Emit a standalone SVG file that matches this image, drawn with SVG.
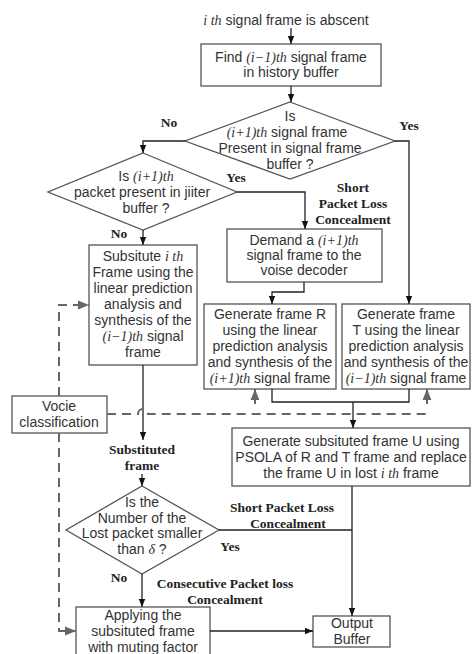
<svg xmlns="http://www.w3.org/2000/svg" width="472" height="654" viewBox="0 0 472 654">
<defs>
<style>
.box{fill:#fff;stroke:#555;stroke-width:1.3}
.t{font-family:"Liberation Sans",Arial,sans-serif;font-size:14px;fill:#333;text-anchor:middle}
.m{font-family:"Liberation Serif","Times New Roman",serif;font-style:italic}
.b{font-family:"Liberation Serif","Times New Roman",serif;font-weight:bold;font-size:13.5px;fill:#222;text-anchor:middle}
.c{fill:none;stroke:#222;stroke-width:1.3}
.d{fill:none;stroke:#666;stroke-width:2;stroke-dasharray:9 6}
.dg{fill:none;stroke:#666;stroke-width:2}
</style>
<marker id="a" viewBox="0 0 10 10" refX="10" refY="5" markerWidth="8" markerHeight="8" markerUnits="userSpaceOnUse" orient="auto"><path d="M0,1 L10,5 L0,9 z" fill="#111"/></marker>
<marker id="g" viewBox="0 0 10 10" refX="10" refY="5" markerWidth="11" markerHeight="11" markerUnits="userSpaceOnUse" orient="auto"><path d="M0,1 L10,5 L0,9 z" fill="#666"/></marker>
</defs>
<rect width="472" height="654" fill="#fff"/>

<g id="start"><text class="t" x="286" y="25"><tspan class="m">i th</tspan>  signal frame is abscent</text></g>

<g id="find"><rect class="box" x="201" y="44" width="180" height="42"/>
<text class="t" x="291" y="62">Find  <tspan class="m">(i</tspan><tspan class="m" font-style="normal">−1)</tspan><tspan class="m">th</tspan> signal frame</text>
<text class="t" x="291" y="77">in history buffer</text></g>

<g id="dec1"><polygon class="box" points="290,102 395,141 290,179 185,141"/>
<text class="t" x="290" y="121">Is</text>
<text class="t" x="287" y="137"><tspan class="m">(i</tspan><tspan class="m" font-style="normal">+1)</tspan><tspan class="m">th</tspan>  signal frame</text>
<text class="t" x="290" y="153">Present in signal frame</text>
<text class="t" x="290" y="169">buffer ?</text></g>

<g id="dec2"><polygon class="box" points="143,153 237,192 143,230 48,192"/>
<text class="t" x="146" y="181">Is  <tspan class="m">(i</tspan><tspan class="m" font-style="normal">+1)</tspan><tspan class="m">th</tspan></text>
<text class="t" x="142" y="197">packet present in jiiter</text>
<text class="t" x="146" y="213">buffer ?</text></g>

<g id="demand"><rect class="box" x="227" y="229" width="155" height="53"/>
<text class="t" x="304" y="245">Demand a  <tspan class="m">(i</tspan><tspan class="m" font-style="normal">+1)</tspan><tspan class="m">th</tspan></text>
<text class="t" x="304" y="260">signal frame to the</text>
<text class="t" x="304" y="275">voise decoder</text></g>

<g id="subst"><rect class="box" x="89" y="245" width="108" height="120"/>
<text class="t" x="143" y="261">Subsitute  <tspan class="m">i th</tspan></text>
<text class="t" x="143" y="277">Frame using the</text>
<text class="t" x="143" y="293">linear prediction</text>
<text class="t" x="143" y="309">analysis and</text>
<text class="t" x="143" y="325">synthesis of the</text>
<text class="t" x="143" y="341"><tspan class="m">(i</tspan><tspan class="m" font-style="normal">−1)</tspan><tspan class="m">th</tspan> signal</text>
<text class="t" x="143" y="357">frame</text></g>

<g id="frameR"><rect class="box" x="204" y="304" width="132" height="85"/>
<text class="t" x="270" y="319">Generate frame R</text>
<text class="t" x="270" y="335">using the linear</text>
<text class="t" x="270" y="351">prediction analysis</text>
<text class="t" x="270" y="367">and synthesis of the</text>
<text class="t" x="270" y="383"><tspan class="m">(i</tspan><tspan class="m" font-style="normal">+1)</tspan><tspan class="m">th</tspan> signal frame</text></g>

<g id="frameT"><rect class="box" x="342" y="304" width="128" height="85"/>
<text class="t" x="406" y="319">Generate frame</text>
<text class="t" x="406" y="335">T using the linear</text>
<text class="t" x="406" y="351">prediction analysis</text>
<text class="t" x="406" y="367">and synthesis of the</text>
<text class="t" x="406" y="383"><tspan class="m">(i</tspan><tspan class="m" font-style="normal">−1)</tspan><tspan class="m">th</tspan> signal frame</text></g>

<g id="vocie"><rect class="box" x="12" y="396" width="95" height="37"/>
<text class="t" x="59" y="411">Vocie</text>
<text class="t" x="59" y="427">classification</text></g>

<g id="frameU"><rect class="box" x="232" y="428" width="238" height="58"/>
<text class="t" x="351" y="446">Generate subsituted frame U using</text>
<text class="t" x="351" y="462">PSOLA of R and T frame and replace</text>
<text class="t" x="351" y="478">the frame U in lost  <tspan class="m">i th</tspan> frame</text></g>

<g id="dec3"><polygon class="box" points="142,486 219,530 142,574 66,530"/>
<text class="t" x="142" y="507">Is the</text>
<text class="t" x="142" y="523">Number of the</text>
<text class="t" x="142" y="538">Lost packet smaller</text>
<text class="t" x="142" y="554">than  <tspan class="m">δ</tspan> ?</text></g>

<g id="apply"><rect class="box" x="76" y="607" width="134" height="60"/>
<text class="t" x="143" y="620">Applying the</text>
<text class="t" x="143" y="636">subsituted frame</text>
<text class="t" x="143" y="652">with muting factor</text></g>

<g id="output"><rect class="box" x="313" y="616" width="77" height="31"/>
<text class="t" x="352" y="628">Output</text>
<text class="t" x="352" y="644">Buffer</text></g>

<g id="labels">
<text class="b" x="169" y="127">No</text>
<text class="b" x="409" y="130">Yes</text>
<text class="b" x="236" y="182">Yes</text>
<text class="b" x="119" y="238">No</text>
<text class="b" x="353" y="192">Short</text>
<text class="b" x="353" y="208">Packet Loss</text>
<text class="b" x="353" y="224">Concealment</text>
<text class="b" x="142" y="454">Substituted</text>
<text class="b" x="142" y="470">frame</text>
<text class="b" x="282" y="512">Short Packet Loss</text>
<text class="b" x="288" y="528">Concealment</text>
<text class="b" x="230" y="551">Yes</text>
<text class="b" x="119" y="582">No</text>
<text class="b" x="225" y="588">Consecutive Packet loss</text>
<text class="b" x="225" y="604">Concealment</text>
</g>

<g id="connectors">
<path class="c" d="M291,28 V44" marker-end="url(#a)"/>
<path class="c" d="M291,86 V102" marker-end="url(#a)"/>
<path class="c" d="M185,141 H143 V153" marker-end="url(#a)"/>
<path class="c" d="M395,141 H409 V304" marker-end="url(#a)"/>
<path class="c" d="M237,192 H305 V229" marker-end="url(#a)"/>
<path class="c" d="M143,230 V245" marker-end="url(#a)"/>
<path class="c" d="M304,282 V292 H272 V304" marker-end="url(#a)"/>
<path class="c" d="M272,389 V402 H409 V389"/>
<path class="c" d="M353,402 V428" marker-end="url(#a)"/>
<path class="c" d="M143,365 V440" marker-end="url(#a)"/>
<path class="c" d="M142,474 V486" marker-end="url(#a)"/>
<path class="c" d="M142,574 V607" marker-end="url(#a)"/>
<path class="c" d="M219,530 H352"/>
<path class="c" d="M352,486 V616" marker-end="url(#a)"/>
<path class="c" d="M210,631 H313" marker-end="url(#a)"/>
<path class="d" d="M107,414 H138 A5,5 0 0 1 148,414 H427"/>
<path class="dg" d="M255,414 V389" stroke-dasharray="0 10 20" marker-end="url(#g)"/>
<path class="dg" d="M427,414 V389" stroke-dasharray="0 10 20" marker-end="url(#g)"/>
<path class="d" d="M59,396 V305 H89" marker-end="url(#g)"/>
<path class="d" d="M59,433 V631 H76" marker-end="url(#g)"/>
</g>
</svg>
